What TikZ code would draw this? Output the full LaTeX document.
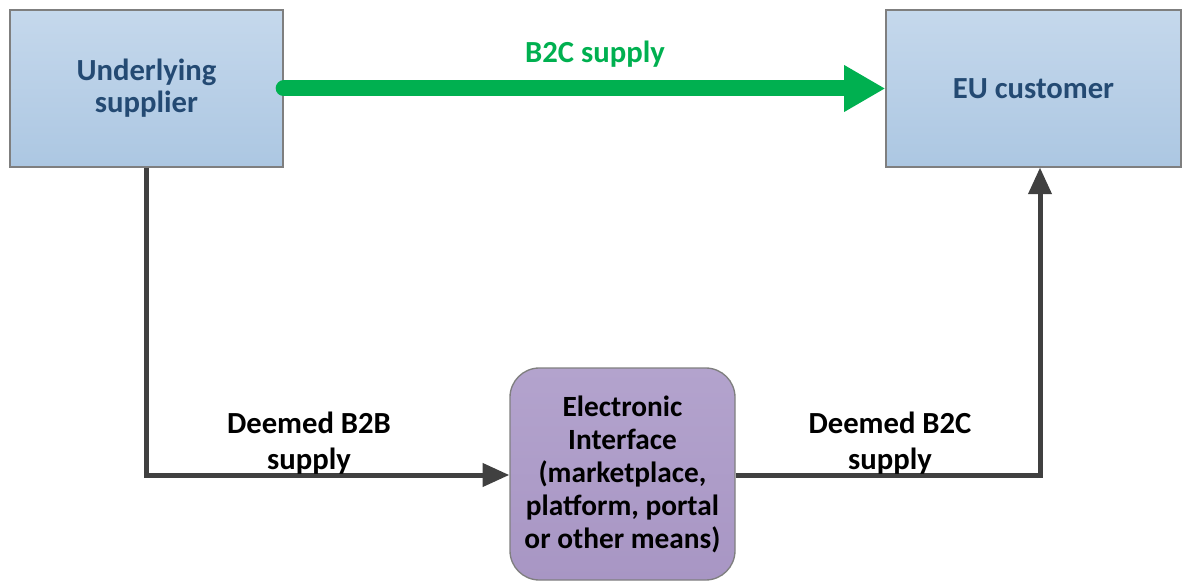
\documentclass[tikz,border=0pt]{standalone}
\usepackage{fontspec}
\setmainfont{Carlito}
\usetikzlibrary{arrows.meta}

\definecolor{boxblue}{RGB}{197,216,236}
\definecolor{boxbluedark}{RGB}{172,199,226}
\definecolor{textblue}{RGB}{36,74,115}
\definecolor{boxpurple}{RGB}{179,163,205}
\definecolor{boxpurpledark}{RGB}{168,150,196}
\definecolor{supplygreen}{RGB}{0,176,80}
\definecolor{linegray}{RGB}{64,64,64}

\tikzset{every picture/.style={line width=0.75pt}}
\tikzset{
  partybox/.style={draw={rgb, 255:red, 127; green, 127; blue, 127}, line width=1pt, top color=boxblue, bottom color=boxbluedark, font=\bfseries\fontsize{23}{24}\selectfont, text=textblue, align=center},
  platformbox/.style={draw={rgb, 255:red, 127; green, 127; blue, 127}, line width=1pt, rounded corners=22pt, top color=boxpurple, bottom color=boxpurpledark, font=\bfseries\fontsize{22}{24.75}\selectfont, text=black, align=center, minimum width=168.75pt, minimum height=159pt},
  flowlabel/.style={font=\bfseries\fontsize{23}{27}\selectfont, align=center},
  flowline/.style={draw=linegray, line width=3.75pt, -{Triangle[length=20pt,width=17pt]}}
}

\begin{document}
\begin{tikzpicture}[x=0.75pt,y=0.75pt,yscale=-1,xscale=1]
        \useasboundingbox (0,0) rectangle (1183,581);
        % Boxes
        \node [partybox, minimum width=204.75pt, minimum height=117.75pt] (supplier) at (146.5,88.5) {Underlying\\supplier};
        \node [partybox, minimum width=221.25pt, minimum height=117.75pt] (customer) at (1033.5,88.5) {EU customer};
        \node [platformbox] (interface) at (622.5,474) {Electronic\\Interface\\(marketplace,\\platform, portal\\or other means)};
        % Corner points
        \coordinate (leftbend) at (146.5,475);
        \coordinate (rightbend) at (1040,475);
        \coordinate (custin) at (1040,167.5);
        %Straight Lines
        \draw [draw=supplygreen, line width=12pt, line cap=round, -{Triangle[length=31pt,width=33pt]}] (supplier.east) -- (customer.west);
        %Straight Lines
        \draw [flowline] (supplier.south) -- (leftbend) -- (interface.west |- leftbend);
        %Straight Lines
        \draw [flowline] (interface.east |- rightbend) -- (rightbend) -- (custin);
        % Text Node
        \node [flowlabel, text=supplygreen] (b2clabel) at (595,54) {B2C supply};
        % Text Node
        \node [flowlabel] (b2blabel) at (309,443) {Deemed B2B\\supply};
        % Text Node
        \node [flowlabel] (deemedb2clabel) at (890,443) {Deemed B2C\\supply};
    \end{tikzpicture}
\end{document}
